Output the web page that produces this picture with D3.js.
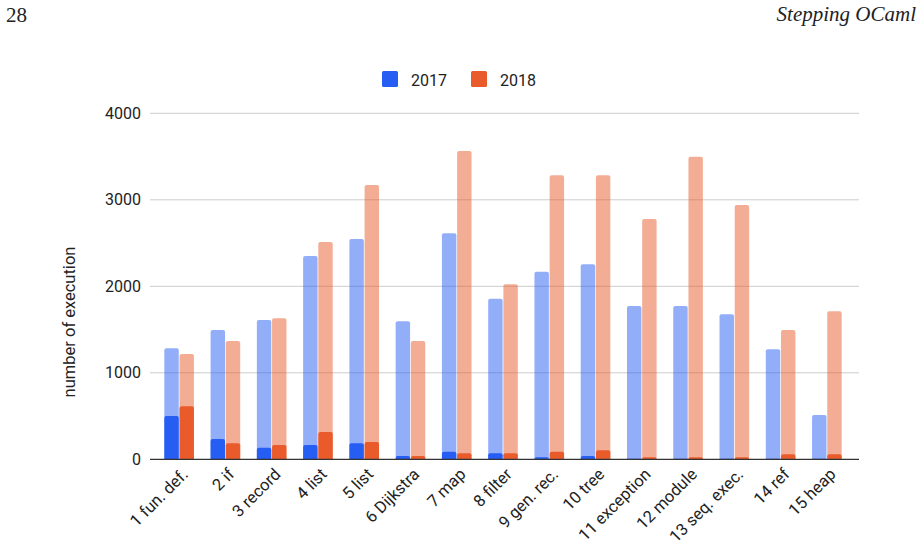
<!DOCTYPE html>
<html><head><meta charset="utf-8">
<script src="https://cdn.jsdelivr.net/npm/d3@7"></script>
<style>body{margin:0;background:#fff}svg{display:block}</style>
</head><body><svg id="c" width="920" height="551"></svg>
<script>
const categories = ["1 fun. def.","2 if","3 record","4 list","5 list","6 Dijkstra","7 map","8 filter","9 gen. rec.","10 tree","11 exception","12 module","13 seq. exec.","14 ref","15 heap"];
const total2017 = [1283,1495,1610,2350,2547,1595,2613,1857,2169,2254,1772,1772,1676,1272,512];
const total2018 = [1217,1368,1630,2512,3171,1368,3564,2023,3283,3283,2778,3499,2940,1495,1711];
const inner2017 = [500,235,134,165,185,38,88,69,23,38,5,5,5,5,5];
const inner2018 = [613,185,165,316,200,38,69,69,88,104,23,23,23,58,58];
const seriesNames = ["2017","2018"];
const yTicks = [0,1000,2000,3000,4000];
const colors = ["#265ef4","#ea5b2c"];

const svg = d3.select("#c");
const font = "Roboto, 'Liberation Sans', Arial, sans-serif";
const serif = "'Liberation Serif', 'Times New Roman', serif";
const x = d3.scaleBand().domain(categories).range([156,850]).paddingInner(0).paddingOuter(0);
const xs = d3.scaleBand().domain([0,1]).range([x.bandwidth()*0.18, x.bandwidth()*0.82]).paddingInner(0.05);
const y = d3.scaleLinear().domain([0,4000]).range([459.3,113.3]);

// header
svg.append("text").attr("x",6).attr("y",21.5).attr("font-family",serif).attr("font-size",21).attr("fill","#222").text("28");
svg.append("text").attr("x",916).attr("y",20.5).attr("text-anchor","end").attr("font-family",serif).attr("font-style","italic").attr("font-size",21).attr("fill","#222").text("Stepping OCaml");

// gridlines
svg.append("g").selectAll("line").data(yTicks.filter(d=>d>0)).join("line")
  .attr("x1",150).attr("x2",859).attr("y1",d=>y(d)).attr("y2",d=>y(d))
  .attr("stroke","#cccccc").attr("stroke-width",1);

// y axis tick labels
const yAxis = d3.axisLeft(y).tickValues(yTicks).tickSize(0).tickPadding(0).tickFormat(d3.format("d"));
const gy = svg.append("g").attr("transform","translate(141,0)").call(yAxis);
gy.select(".domain").remove();
gy.selectAll("text").attr("font-family",font).attr("font-size",16).attr("fill","#222");

// y label
svg.append("text").attr("transform","translate(74.5,322) rotate(-90)").attr("text-anchor","middle")
  .attr("font-family",font).attr("font-size",16.5).attr("fill","#222").text("number of execution");

function roundTop(x0,y0,w,h,r){
  r=Math.min(r,h,w/2);
  return `M${x0},${y0+h}V${y0+r}Q${x0},${y0} ${x0+r},${y0}H${x0+w-r}Q${x0+w},${y0} ${x0+w},${y0+r}V${y0+h}Z`;
}

const totals=[total2017,total2018], inners=[inner2017,inner2018];
const gb = svg.append("g");
categories.forEach((c,i)=>{
  [0,1].forEach(s=>{
    const bx = x(c)+xs(s), bw = xs.bandwidth();
    const t = totals[s][i], n = inners[s][i];
    gb.append("path").attr("d",roundTop(bx,y(t),bw,y(0)-y(t),2)).attr("fill",colors[s]).attr("fill-opacity",0.5);
    gb.append("path").attr("d",roundTop(bx,y(n),bw,y(0)-y(n),2)).attr("fill",colors[s]);
  });
});

// x axis line
svg.append("line").attr("x1",150).attr("x2",859).attr("y1",y(0)).attr("y2",y(0)).attr("stroke","#333").attr("stroke-width",1.3);

// x labels
const xAxis = d3.axisBottom(x).tickSize(0).tickPadding(0);
const gx = svg.append("g").attr("transform",`translate(0,${y(0)})`).call(xAxis);
gx.select(".domain").remove();
gx.selectAll("text").attr("font-family",font).attr("font-size",16.5).attr("fill","#222")
  .attr("text-anchor","end").attr("dy",0).attr("y",0)
  .attr("transform","translate(10,16) rotate(-45)");

// legend
const leg = svg.append("g");
const lx=[382,471];
seriesNames.forEach((n,i)=>{
  leg.append("rect").attr("x",lx[i]).attr("y",71).attr("width",16).attr("height",16).attr("rx",1.5).attr("fill",colors[i]);
  leg.append("text").attr("x",lx[i]+29).attr("y",86).attr("font-family",font).attr("font-size",16).attr("fill","#222").text(n);
});
</script></body></html>
